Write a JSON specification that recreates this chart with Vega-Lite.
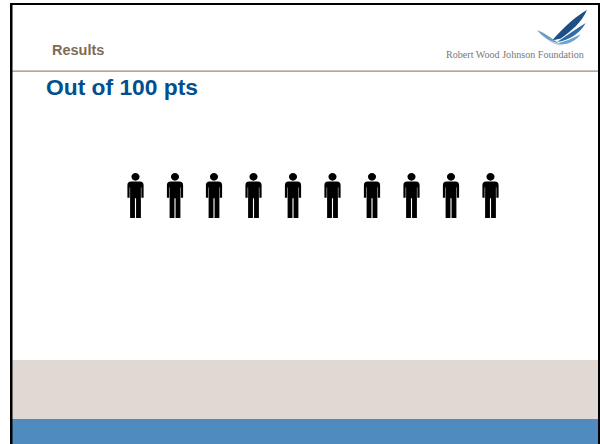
{
  "$schema": "https://vega.github.io/schema/vega-lite/v6.json",
  "width": 600,
  "height": 444,
  "autosize": {"type": "fit", "contains": "padding"},
  "padding": 0,
  "background": "white",
  "config": {"view": {"stroke": null}},
  "datasets": {
    "bands": [
      {"part": "beige", "x0": 12, "x1": 598, "y0": 360, "y1": 419, "c": "#E0D8D2"},
      {"part": "blue", "x0": 12, "x1": 598, "y0": 419, "y1": 444, "c": "#4F8BBF"},
      {"part": "rule", "x0": 12, "x1": 598, "y0": 70.4, "y1": 71.8, "c": "#9C8B78"},
      {"part": "top", "x0": 10, "x1": 600, "y0": 3, "y1": 5, "c": "#000000"},
      {"part": "left", "x0": 10, "x1": 12.5, "y0": 3, "y1": 444, "c": "#000000"},
      {"part": "right", "x0": 598, "x1": 600, "y0": 3, "y1": 444, "c": "#000000"}
    ],
    "people": [
      {"person": 1, "x": 135.5, "y": 195.5},
      {"person": 2, "x": 175, "y": 195.5},
      {"person": 3, "x": 214, "y": 195.5},
      {"person": 4, "x": 253.5, "y": 195.5},
      {"person": 5, "x": 293, "y": 195.5},
      {"person": 6, "x": 332.5, "y": 195.5},
      {"person": 7, "x": 372, "y": 195.5},
      {"person": 8, "x": 411.5, "y": 195.5},
      {"person": 9, "x": 451, "y": 195.5},
      {"person": 10, "x": 490.5, "y": 195.5}
    ],
    "blades": [
      {"blade": "a", "x": 562, "y": 28},
      {"blade": "b", "x": 562, "y": 28},
      {"blade": "c", "x": 562, "y": 28},
      {"blade": "d", "x": 562, "y": 28},
      {"blade": "e", "x": 562, "y": 28}
    ],
    "labels": [
      {"label": "Results", "x": 52, "y": 55, "kind": "section"},
      {"label": "Out of 100 pts", "x": 46, "y": 95, "kind": "title"},
      {"label": "Robert Wood Johnson Foundation", "x": 446, "y": 58, "kind": "logo"}
    ]
  },
  "layer": [
    {
      "data": {"name": "bands"},
      "mark": {"type": "rect"},
      "encoding": {
        "x": {"field": "x0", "type": "quantitative", "axis": null, "scale": {"domain": [0, 600], "nice": false, "zero": false}},
        "x2": {"field": "x1"},
        "y": {"field": "y0", "type": "quantitative", "axis": null, "scale": {"domain": [444, 0], "nice": false, "zero": false}},
        "y2": {"field": "y1"},
        "color": {"field": "c", "type": "nominal", "scale": null, "legend": null}
      }
    },
    {
      "data": {"name": "people"},
      "mark": {
        "type": "point",
        "filled": true,
        "opacity": 1,
        "color": "#000000",
        "size": 2025,
        "shape": "M0,-1 C.1,-1 .18,-.92 .18,-.83 C.18,-.74 .1,-.66 0,-.66 C-.1,-.66 -.18,-.74 -.18,-.83 C-.18,-.92 -.1,-1 0,-1 Z M-.2,-.62 L.2,-.62 C.3,-.62 .36,-.56 .36,-.46 L.36,.1 L.26,.1 L.26,-.36 L.24,-.36 L.24,1 L.025,1 L.025,.12 L-.025,.12 L-.025,1 L-.24,1 L-.24,-.36 L-.26,-.36 L-.26,.1 L-.36,.1 L-.36,-.46 C-.36,-.56 -.3,-.62 -.2,-.62 Z"
      },
      "encoding": {
        "x": {"field": "x", "type": "quantitative", "axis": null, "scale": {"domain": [0, 600], "nice": false, "zero": false}},
        "y": {"field": "y", "type": "quantitative", "axis": null, "scale": {"domain": [444, 0], "nice": false, "zero": false}}
      }
    },
    {
      "data": {"name": "blades"},
      "mark": {"type": "point", "filled": true, "opacity": 1, "size": 2500},
      "encoding": {
        "x": {"field": "x", "type": "quantitative", "axis": null, "scale": {"domain": [0, 600], "nice": false, "zero": false}},
        "y": {"field": "y", "type": "quantitative", "axis": null, "scale": {"domain": [444, 0], "nice": false, "zero": false}},
        "shape": {
          "field": "blade",
          "type": "nominal",
          "legend": null,
          "scale": {
            "domain": ["a", "b", "c", "d", "e"],
            "range": [
              "M1,-.72 C.6,-.5 .15,-.12 -.4,.5 L-.05,.42 C.35,.15 .8,-.25 1,-.72 Z",
              "M.95,-.2 C.6,0 .2,.3 -.2,.56 C.25,.52 .72,.22 .95,-.2 Z",
              "M.75,.25 C.45,.4 .1,.55 -.2,.62 C.2,.72 .55,.52 .75,.25 Z",
              "M-1,.08 C-.75,.4 -.45,.55 -.1,.64 C-.4,.4 -.7,.2 -1,.08 Z",
              "M-.6,.45 C-.4,.62 -.2,.72 .1,.68 C-.2,.62 -.4,.55 -.6,.45 Z"
            ]
          }
        },
        "color": {
          "field": "blade",
          "type": "nominal",
          "legend": null,
          "scale": {
            "domain": ["a", "b", "c", "d", "e"],
            "range": ["#1F4E86", "#2F6CA6", "#6FA3CC", "#6E9DBF", "#B7D2E4"]
          }
        }
      }
    },
    {
      "data": {"name": "labels"},
      "transform": [{"filter": "datum.kind === 'section'"}],
      "mark": {"type": "text", "align": "left", "baseline": "alphabetic", "font": "Liberation Sans", "fontWeight": "bold", "fontSize": 14.5, "color": "#7F6A55"},
      "encoding": {
        "x": {"field": "x", "type": "quantitative", "axis": null, "scale": {"domain": [0, 600], "nice": false, "zero": false}},
        "y": {"field": "y", "type": "quantitative", "axis": null, "scale": {"domain": [444, 0], "nice": false, "zero": false}},
        "text": {"field": "label"}
      }
    },
    {
      "data": {"name": "labels"},
      "transform": [{"filter": "datum.kind === 'title'"}],
      "mark": {"type": "text", "align": "left", "baseline": "alphabetic", "font": "Liberation Sans", "fontWeight": "bold", "fontSize": 22.8, "color": "#00508F"},
      "encoding": {
        "x": {"field": "x", "type": "quantitative", "axis": null, "scale": {"domain": [0, 600], "nice": false, "zero": false}},
        "y": {"field": "y", "type": "quantitative", "axis": null, "scale": {"domain": [444, 0], "nice": false, "zero": false}},
        "text": {"field": "label"}
      }
    },
    {
      "data": {"name": "labels"},
      "transform": [{"filter": "datum.kind === 'logo'"}],
      "mark": {"type": "text", "align": "left", "baseline": "alphabetic", "font": "Liberation Serif", "fontSize": 10.1, "color": "#777777"},
      "encoding": {
        "x": {"field": "x", "type": "quantitative", "axis": null, "scale": {"domain": [0, 600], "nice": false, "zero": false}},
        "y": {"field": "y", "type": "quantitative", "axis": null, "scale": {"domain": [444, 0], "nice": false, "zero": false}},
        "text": {"field": "label"}
      }
    }
  ]
}
